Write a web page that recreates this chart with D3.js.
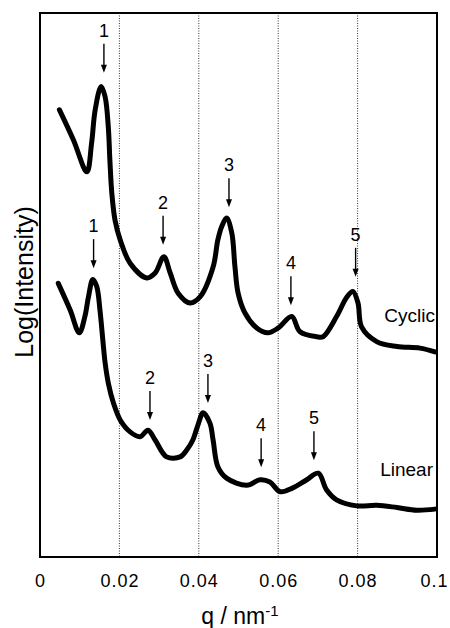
<!DOCTYPE html>
<html>
<head>
<meta charset="utf-8">
<script src="https://cdn.jsdelivr.net/npm/d3@7"></script>
<style>
  body { margin: 0; background: #fff; }
  text { font-family: "Liberation Sans", Arial, Helvetica, sans-serif; fill: #000; }
</style>
</head>
<body>
<div id="chart"></div>
<script>
const margin = { top: 13, right: 13, bottom: 71, left: 40 };
const width = 450 - margin.left - margin.right;
const height = 628 - margin.top - margin.bottom;

// q (nm^-1) and log intensity (arbitrary units)
const cyclicQ = [0.0049, 0.0084, 0.0118, 0.0130, 0.0139, 0.0154, 0.0164, 0.0172, 0.0176, 0.0181,
  0.0189, 0.0202, 0.0227, 0.0269, 0.0290, 0.0312, 0.0328, 0.0348, 0.0378, 0.0403,
  0.0436, 0.0448, 0.0458, 0.0470, 0.0483, 0.0491, 0.0499, 0.0516, 0.0546, 0.0574,
  0.0600, 0.0634, 0.0655, 0.0697, 0.0713, 0.0747, 0.0773, 0.0788, 0.0801, 0.0810,
  0.0848, 0.0899, 0.0957, 0.0995];
const cyclicI = [8.22, 7.67, 7.08, 7.61, 8.22, 8.65, 8.46, 7.91, 7.30, 6.68,
  6.19, 5.83, 5.40, 5.13, 5.22, 5.52, 5.22, 4.85, 4.67, 4.78,
  5.33, 5.83, 6.08, 6.23, 5.96, 5.34, 4.85, 4.49, 4.21, 4.12,
  4.21, 4.42, 4.14, 4.05, 4.05, 4.42, 4.78, 4.88, 4.67, 4.23,
  3.96, 3.87, 3.84, 3.77];

const linearQ = [0.0046, 0.0076, 0.0099, 0.0113, 0.0122, 0.0133, 0.0143, 0.0151, 0.0159, 0.0164,
  0.0172, 0.0185, 0.0202, 0.0227, 0.0252, 0.0272, 0.0290, 0.0319, 0.0353, 0.0370,
  0.0385, 0.0398, 0.0411, 0.0428, 0.0436, 0.0448, 0.0470, 0.0521, 0.0554, 0.0579,
  0.0605, 0.0637, 0.0672, 0.0701, 0.0722, 0.0747, 0.0798, 0.0848, 0.0899, 0.0949,
  0.0995];
const linearI = [5.03, 4.54, 4.12, 4.42, 4.78, 5.10, 4.97, 4.54, 3.93, 3.57,
  3.20, 2.83, 2.52, 2.30, 2.21, 2.33, 2.15, 1.84, 1.84, 1.97,
  2.15, 2.43, 2.65, 2.46, 2.15, 1.66, 1.45, 1.32, 1.42, 1.38,
  1.20, 1.27, 1.42, 1.54, 1.23, 1.05, 0.94, 0.95, 0.91, 0.86,
  0.88];

// peak markers: order number, q position, arrow tip (log intensity)
const peakLabels = ["1", "2", "3", "4", "5"];
const cyclicPeakQ = [0.0161, 0.0310, 0.0476, 0.0632, 0.0795];
const cyclicPeakTip = [8.90, 5.74, 6.43, 4.63, 5.15];
const linearPeakQ = [0.0135, 0.0277, 0.0423, 0.0557, 0.0690];
const linearPeakTip = [5.31, 2.52, 2.83, 1.65, 1.78];

const xTicks = [0, 0.02, 0.04, 0.06, 0.08, 0.1];
const gridTicks = [0.02, 0.04, 0.06, 0.08];

const x = d3.scaleLinear().domain([0, 0.1]).range([0, width]);
const y = d3.scaleLinear().domain([0, 10]).range([height, 0]);

const svg = d3.select("#chart")
  .append("svg")
  .attr("width", width + margin.left + margin.right)
  .attr("height", height + margin.top + margin.bottom)
  .append("g")
  .attr("transform", `translate(${margin.left},${margin.top})`);

// dotted vertical grid
svg.selectAll(".grid")
  .data(gridTicks)
  .enter()
  .append("line")
  .attr("x1", d => x(d)).attr("x2", d => x(d))
  .attr("y1", 0).attr("y2", height)
  .attr("stroke", "#333")
  .attr("stroke-width", 1)
  .attr("stroke-dasharray", "1,1.5");

// x axis labels
const xAxis = svg.append("g")
  .attr("transform", `translate(0,${height})`)
  .call(d3.axisBottom(x).tickValues(xTicks).tickSize(0).tickPadding(17)
    .tickFormat(d => d === 0 ? "0" : d3.format("")(+d.toFixed(2))));
xAxis.select(".domain").remove();
xAxis.selectAll("text")
  .style("font-size", "18px")
  .style("letter-spacing", "1px")
  .style("font-family", "'Liberation Sans', Arial, sans-serif")
  .attr("fill", "#000")
  .attr("dx", d => d === 0.1 ? -3 : 0);

// frame
svg.append("rect")
  .attr("x", 0).attr("y", 0)
  .attr("width", width).attr("height", height)
  .attr("fill", "none")
  .attr("stroke", "#000")
  .attr("stroke-width", 2);

const line = d3.line()
  .x(d => x(d[0]))
  .y(d => y(d[1]))
  .curve(d3.curveCatmullRom.alpha(0.5));

function drawSeries(qs, vals) {
  const pts = qs.map((q, i) => [q, vals[i]]);
  svg.append("path")
    .datum(pts)
    .attr("d", line)
    .attr("fill", "none")
    .attr("stroke", "#000")
    .attr("stroke-width", 5)
    .attr("stroke-linejoin", "round")
    .attr("stroke-linecap", "round");
}
drawSeries(cyclicQ, cyclicI);
drawSeries(linearQ, linearI);

function drawArrows(qs, tips) {
  qs.forEach((q, i) => {
    const px = x(q);
    const tip = y(tips[i]);
    const top = tip - 29;
    svg.append("line")
      .attr("x1", px).attr("x2", px)
      .attr("y1", top).attr("y2", tip - 6)
      .attr("stroke", "#000")
      .attr("stroke-width", 1.4);
    svg.append("path")
      .attr("d", `M${px - 3},${tip - 8} L${px + 3},${tip - 8} L${px},${tip} Z`)
      .attr("fill", "#000");
    svg.append("text")
      .attr("x", px).attr("y", top - 7)
      .attr("text-anchor", "middle")
      .style("font-size", "18px")
      .text(peakLabels[i]);
  });
}
drawArrows(cyclicPeakQ, cyclicPeakTip);
drawArrows(linearPeakQ, linearPeakTip);

// series names
svg.append("text")
  .attr("x", width - 2).attr("y", 309)
  .attr("text-anchor", "end")
  .style("font-size", "19px")
  .text("Cyclic");
svg.append("text")
  .attr("x", width - 4).attr("y", 463)
  .attr("text-anchor", "end")
  .style("font-size", "19px")
  .text("Linear");

// axis titles
const xt = svg.append("text")
  .attr("x", 200).attr("y", 611)
  .attr("text-anchor", "middle")
  .style("font-size", "23px");
xt.append("tspan").text("q / nm");
xt.append("tspan").attr("dy", -8).style("font-size", "15px").text("-1");

svg.append("text")
  .attr("transform", `translate(${33 - margin.left},${282 - margin.top}) rotate(-90)`)
  .attr("text-anchor", "middle")
  .style("font-size", "25px")
  .text("Log(Intensity)");
</script>
</body>
</html>
